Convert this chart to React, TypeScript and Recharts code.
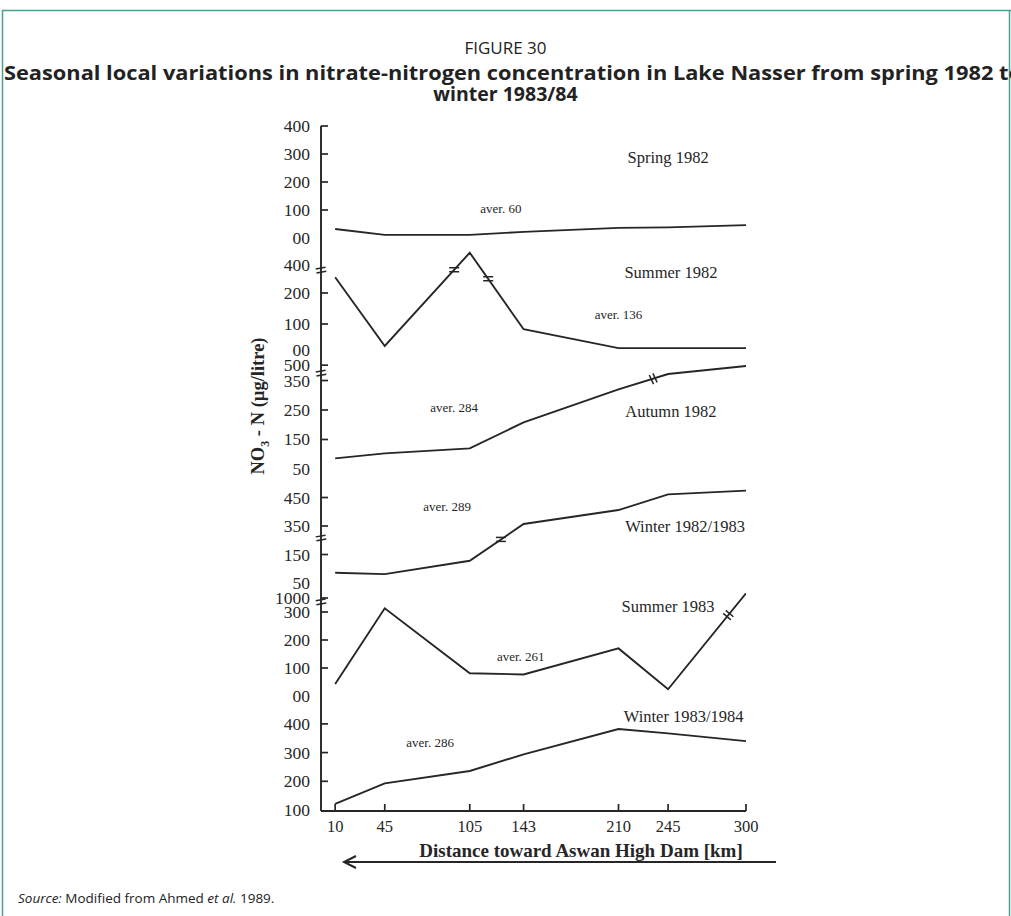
import React from 'react';
import { LineChart, Line, XAxis, YAxis, ReferenceDot } from 'recharts';

// ---------- data ----------
const distanceKm = [10, 45, 105, 143, 210, 245, 300];

// values as plotted on each panel's (partly broken) scale
const spring1982 = [32, 11, 11, 22, 36, 38, 46];
const summer1982 = [251, 29, 330, 83, 22, 22, 22];
const autumn1982 = [86, 103, 120, 208, 320, 372, 399];
const winter1982_83 = [86, 81, 128, 257, 306, 361, 374];
const summer1983 = [43, 313, 81, 77, 170, 24, 367];
const winter1983_84 = [121, 193, 236, 294, 382, 367, 340];

// y ticks: position on drawn scale and the printed label
const springTickPos = [0, 100, 200, 300, 400];
const springTickLabels = ['00', '100', '200', '300', '400'];
const summer82TickPos = [16, 100, 200, 290];
const summer82TickLabels = ['00', '100', '200', '400'];
const autumn82TickPos = [50, 150, 250, 350, 402];
const autumn82TickLabels = ['50', '150', '250', '350', '500'];
const winter8283TickPos = [50, 150, 250, 350];
const winter8283TickLabels = ['50', '150', '350', '450'];
const summer83TickPos = [0, 100, 200, 300, 350];
const summer83TickLabels = ['00', '100', '200', '300', '1000'];
const winter8384TickPos = [100, 200, 300, 400];
const winter8384TickLabels = ['100', '200', '300', '400'];

const seasonNames = ['Spring 1982', 'Summer 1982', 'Autumn 1982', 'Winter 1982/1983', 'Summer 1983', 'Winter 1983/1984'];
const averageLabels = ['aver. 60', 'aver. 136', 'aver. 284', 'aver. 289', 'aver. 261', 'aver. 286'];

// ---------- styling / layout ----------
const INK = '#262626';
const SERIF = '"Liberation Serif", "Times New Roman", serif';
const SANS = '"Open Sans", "Noto Sans", sans-serif';
const FRAME = '#4a9e93';

const CHART_W = 800;
const PLOT_LEFT = 321;
const PLOT_RIGHT = 746;
const Y_AXIS_W = 60;
const PAD_TOP = 24;
const PAD_BOTTOM = 10;
const LAST_X_H = 36;

type Mark = { km: number; v: number; angle: number };
type PanelCfg = {
  values: number[];
  tickPos: number[];
  tickLabels: string[];
  noMark: number[];
  top: number;
  bottom: number;
  domain: [number, number];
  name: string;
  nameAt: [number, number];
  avg: string;
  avgAt: [number, number];
  breaks: Mark[];
};

const panels: PanelCfg[] = [
  {
    values: spring1982, tickPos: springTickPos, tickLabels: springTickLabels, noMark: [0],
    top: 126, bottom: 243, domain: [-17.9, 400],
    name: seasonNames[0], nameAt: [245, 286], avg: averageLabels[0], avgAt: [127, 104], breaks: [],
  },
  {
    values: summer1982, tickPos: summer82TickPos, tickLabels: summer82TickLabels, noMark: [16, 290],
    top: 243, bottom: 357, domain: [-6.5, 361.3],
    name: seasonNames[1], nameAt: [247, 265], avg: averageLabels[1], avgAt: [210, 132],
    breaks: [{ km: 0, v: 274, angle: -10 }, { km: 94, v: 275, angle: 0 }, { km: 118, v: 246, angle: 0 }],
  },
  {
    values: autumn1982, tickPos: autumn82TickPos, tickLabels: autumn82TickLabels, noMark: [50],
    top: 357, bottom: 471, domain: [43.2, 429.7],
    name: seasonNames[2], nameAt: [247, 244], avg: averageLabels[2], avgAt: [94, 260],
    breaks: [{ km: 0, v: 375, angle: -10 }, { km: 234.5, v: 356, angle: 65 }],
  },
  {
    values: winter1982_83, tickPos: winter8283TickPos, tickLabels: winter8283TickLabels, noMark: [50],
    top: 471, bottom: 585, domain: [43, 443],
    name: seasonNames[3], nameAt: [257, 250], avg: averageLabels[3], avgAt: [89, 318],
    breaks: [{ km: 0, v: 208, angle: -10 }, { km: 127, v: 203, angle: 0 }],
  },
  {
    values: summer1983, tickPos: summer83TickPos, tickLabels: summer83TickLabels, noMark: [0],
    top: 585, bottom: 697, domain: [-3.6, 396.4],
    name: seasonNames[4], nameAt: [245, 321], avg: averageLabels[4], avgAt: [141, 140],
    breaks: [{ km: 0, v: 336, angle: -10 }, { km: 287.5, v: 289, angle: 40 }],
  },
  {
    values: winter1983_84, tickPos: winter8384TickPos, tickLabels: winter8384TickLabels, noMark: [100],
    top: 697, bottom: 811, domain: [96.5, 493.7],
    name: seasonNames[5], nameAt: [256, 425], avg: averageLabels[5], avgAt: [77, 334], breaks: [],
  },
];

// ---------- renderers ----------
const YTick = (props: any) => {
  const { x, y, payload, cfg } = props;
  const i = cfg.tickPos.indexOf(payload.value);
  const label = cfg.tickLabels[i];
  const mark = !cfg.noMark.includes(payload.value);
  return (
    <g>
      {mark && <line x1={x} y1={y} x2={x + 7} y2={y} stroke={INK} strokeWidth={1.7} />}
      <text x={x - 11} y={y} textAnchor="end" dominantBaseline="central" fontFamily={SERIF} fontSize={17.5} fill={INK}>
        {label}
      </text>
    </g>
  );
};

const XTick = (props: any) => {
  const { x, y, payload, showLabel } = props;
  return (
    <g>
      <line x1={x} y1={y} x2={x} y2={y - 7} stroke={INK} strokeWidth={1.7} />
      {showLabel && (
        <text x={x} y={y + 21} textAnchor="middle" fontFamily={SERIF} fontSize={16.5} fill={INK}>
          {payload.value}
        </text>
      )}
    </g>
  );
};

const BreakShape = (props: any) => {
  const { cx, cy, angle } = props;
  if (cx == null || cy == null) return <g />;
  return (
    <g transform={`translate(${cx},${cy}) rotate(${angle})`}>
      <line x1={-5} y1={-2} x2={5} y2={-2} stroke={INK} strokeWidth={1.5} />
      <line x1={-5} y1={2} x2={5} y2={2} stroke={INK} strokeWidth={1.5} />
    </g>
  );
};

const TextShape = (props: any) => {
  const { cx, cy, label, size } = props;
  if (cx == null || cy == null) return <g />;
  return (
    <text x={cx} y={cy} textAnchor="middle" dominantBaseline="central" fontFamily={SERIF} fontSize={size} fill={INK}>
      {label}
    </text>
  );
};

function Panel({ cfg, isLast }: { cfg: PanelCfg; isLast: boolean }) {
  const data = distanceKm.map((km, i) => ({ km, v: cfg.values[i] }));
  const span = cfg.bottom - cfg.top;
  const height = span + PAD_TOP + (isLast ? LAST_X_H : PAD_BOTTOM);
  return (
    <div style={{ position: 'absolute', left: 0, top: cfg.top - PAD_TOP }}>
      <LineChart
        width={CHART_W}
        height={height}
        data={data}
        margin={{ top: PAD_TOP, right: CHART_W - PLOT_RIGHT, bottom: isLast ? 0 : PAD_BOTTOM, left: PLOT_LEFT - Y_AXIS_W }}
      >
        <XAxis
          dataKey="km"
          type="number"
          domain={[0, 300]}
          ticks={distanceKm}
          interval={0}
          allowDataOverflow
          height={isLast ? LAST_X_H : 0}
          tickSize={0}
          tickMargin={0}
          tickLine={false}
          axisLine={{ stroke: INK, strokeWidth: 1.9 }}
          tick={(t: any) => <XTick {...t} showLabel={isLast} />}
        />
        <YAxis
          type="number"
          domain={cfg.domain}
          ticks={cfg.tickPos}
          interval={0}
          allowDataOverflow
          width={Y_AXIS_W}
          tickSize={0}
          tickMargin={0}
          tickLine={false}
          axisLine={{ stroke: INK, strokeWidth: 1.9 }}
          tick={(t: any) => <YTick {...t} cfg={cfg} />}
        />
        <Line type="linear" dataKey="v" stroke={INK} strokeWidth={1.9} dot={false} isAnimationActive={false} />
        {cfg.breaks.map((b, i) => (
          <ReferenceDot key={'b' + i} x={b.km} y={b.v} r={0} ifOverflow="visible"
            shape={(p: any) => <BreakShape {...p} angle={b.angle} />} />
        ))}
        <ReferenceDot x={cfg.nameAt[0]} y={cfg.nameAt[1]} r={0} ifOverflow="visible"
          shape={(p: any) => <TextShape {...p} label={cfg.name} size={16.5} />} />
        <ReferenceDot x={cfg.avgAt[0]} y={cfg.avgAt[1]} r={0} ifOverflow="visible"
          shape={(p: any) => <TextShape {...p} label={cfg.avg} size={13} />} />
      </LineChart>
    </div>
  );
}

export default function App() {
  return (
    <div style={{ position: 'absolute', left: 0, top: 0, width: 1011, height: 916, background: '#ffffff', overflow: 'hidden' }}>
      <svg width={1011} height={916} style={{ position: 'absolute', left: 0, top: 0 }}>
        <line x1={2} y1={10.5} x2={1011} y2={10.5} stroke={FRAME} strokeWidth={1.5} />
        <line x1={2.5} y1={10} x2={2.5} y2={916} stroke={FRAME} strokeWidth={1.5} />
        <line x1={1009.5} y1={10} x2={1009.5} y2={916} stroke={FRAME} strokeWidth={1.5} />
        <text x={505.5} y={54} textAnchor="middle" fontFamily={SANS} fontSize={17} fill="#222">FIGURE 30</text>
        <text x={4} y={80} textAnchor="start" fontFamily={SANS} fontSize={19.5} fontWeight="bold" fill="#222"
          textLength={1018} lengthAdjust="spacingAndGlyphs">
          Seasonal local variations in nitrate-nitrogen concentration in Lake Nasser from spring 1982 to
        </text>
        <text x={505.5} y={101} textAnchor="middle" fontFamily={SANS} fontSize={19.5} fontWeight="bold" fill="#222">
          winter 1983/84
        </text>
        <text transform="translate(258,406) rotate(-90)" textAnchor="middle" dominantBaseline="central"
          fontFamily={SERIF} fontSize={18.5} fontWeight="bold" fill={INK}>
          NO<tspan baselineShift="sub" fontSize={12}>3</tspan><tspan> - N (µg/litre)</tspan>
        </text>
        <text x={581} y={857} textAnchor="middle" fontFamily={SERIF} fontSize={19} fontWeight="bold" fill={INK}>
          Distance toward Aswan High Dam [km]
        </text>
        <line x1={345} y1={862} x2={776} y2={862} stroke={INK} strokeWidth={2} />
        <polyline points="356,856 344,862 356,868" fill="none" stroke={INK} strokeWidth={2} />
        <text x={18} y={903} fontFamily={SANS} fontSize={13.5} fill="#222">
          <tspan fontStyle="italic">Source:</tspan>{' Modified from Ahmed '}<tspan fontStyle="italic">et al.</tspan>{' 1989.'}
        </text>
      </svg>
      {panels.map((cfg, i) => (
        <Panel key={i} cfg={cfg} isLast={i === panels.length - 1} />
      ))}
    </div>
  );
}
